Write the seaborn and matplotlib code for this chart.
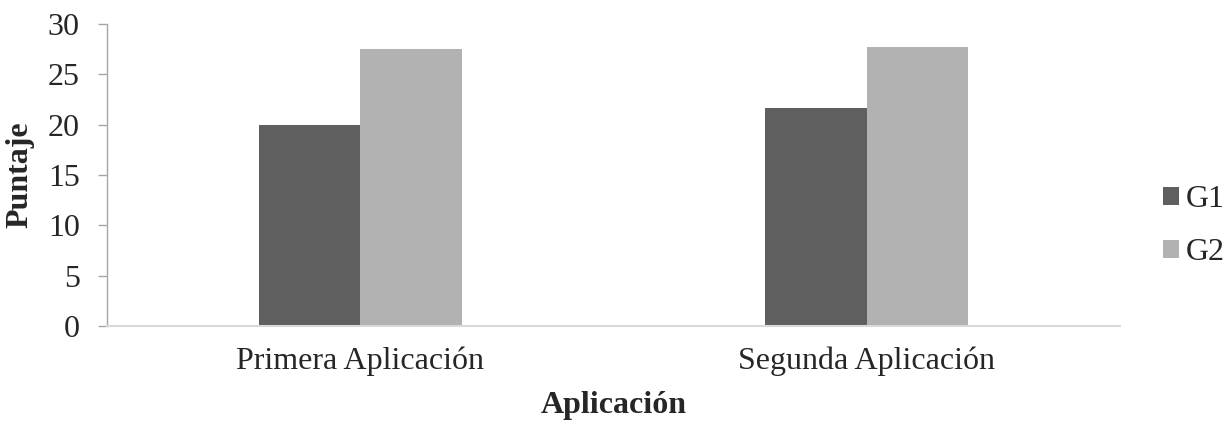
import matplotlib
matplotlib.use("Agg")
import matplotlib.pyplot as plt
import pandas as pd
import seaborn as sns

# data
categories = ["Primera Aplicación", "Segunda Aplicación"]
groups = ["G1", "G2"]
g1_values = [20.0, 21.7]
g2_values = [27.5, 27.7]

df = pd.DataFrame({
    "Aplicación": categories * 2,
    "Grupo": ["G1"] * 2 + ["G2"] * 2,
    "Puntaje": g1_values + g2_values,
})

sns.set_style("white")
plt.rcParams['font.family'] = ['Liberation Serif', 'DejaVu Serif']
FS = 23

fig = plt.figure(figsize=(12.27, 4.26), dpi=100)
ax = fig.add_axes([107 / 1227, 1 - 326 / 426, (1120 - 107) / 1227, (326 - 24) / 426])

sns.barplot(data=df, x="Aplicación", y="Puntaje", hue="Grupo", order=categories,
            hue_order=groups, palette=["#5f5f5f", "#b2b2b2"], width=0.4,
            saturation=1, errorbar=None, linewidth=0, ax=ax)

ax.set_ylim(0, 30)
ax.set_xlim(-0.5, 1.5)
ax.set_yticks(range(0, 31, 5))

for s in ["top", "right"]:
    ax.spines[s].set_visible(False)
ax.spines["left"].set_color("#a6a6a6")
ax.spines["bottom"].set_color("#d9d9d9")
ax.spines["left"].set_linewidth(1.0)
ax.spines["bottom"].set_linewidth(1.5)

ax.tick_params(axis="y", direction="out", length=6.5, width=1, color="#a6a6a6",
               labelsize=FS, pad=13, left=True)
ax.tick_params(axis="x", length=0, labelsize=FS, pad=15)

ax.set_ylabel("Puntaje", fontsize=FS, fontweight="bold")
ax.yaxis.set_label_coords(-73 / 1013, 0.5)
ax.set_xlabel("Aplicación", fontsize=FS, fontweight="bold")
ax.xaxis.set_label_coords(0.5, -65 / 302)

ax.legend(loc="center left", bbox_to_anchor=(1163 / 1227, 1 - 226 / 426),
          bbox_transform=fig.transFigure, frameon=False, fontsize=FS,
          handlelength=0.5, handleheight=0.5, handletextpad=0.22,
          labelspacing=0.75, borderaxespad=0, borderpad=0)

fig.savefig("out.png", dpi=100)
